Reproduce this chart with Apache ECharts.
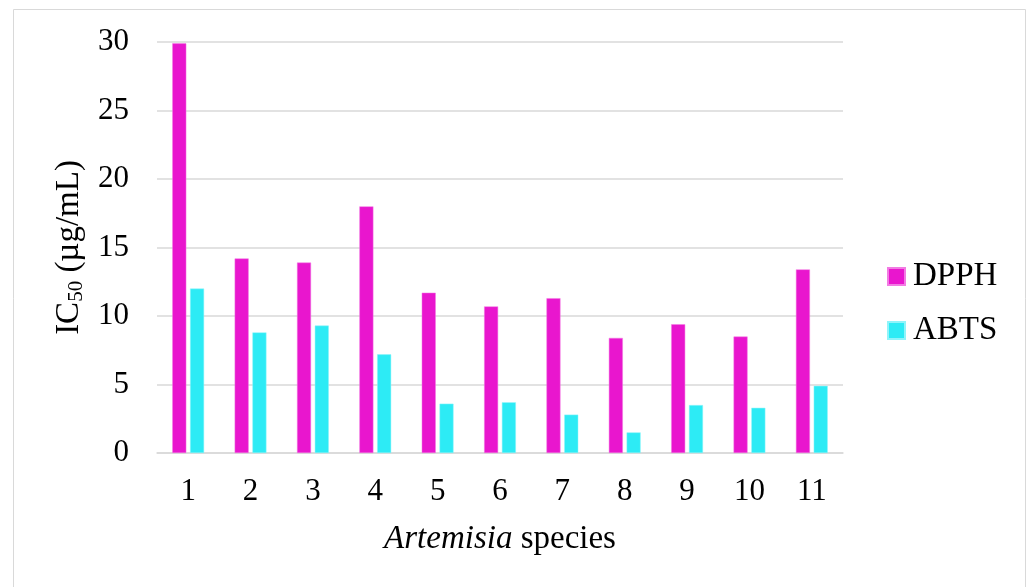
<!DOCTYPE html>
<html>
<head>
<meta charset="utf-8">
<script src="https://cdn.jsdelivr.net/npm/echarts@6/dist/echarts.min.js"></script>
<style>
    html, body { margin: 0; padding: 0; background: #fff; }
    #chart { width: 1030px; height: 587px; }
</style>
</head>
<body>
<div id="chart"></div>
<script>
// data
const species = ['1', '2', '3', '4', '5', '6', '7', '8', '9', '10', '11'];
const dpph = [29.9, 14.2, 13.9, 18.0, 11.7, 10.7, 11.3, 8.4, 9.4, 8.5, 13.4];
const abts = [12.0, 8.8, 9.3, 7.2, 3.6, 3.7, 2.8, 1.5, 3.5, 3.3, 4.9];
const yTicks = [0, 5, 10, 15, 20, 25, 30];

const serif = '"Liberation Serif", "Times New Roman", serif';

let chart = echarts.init(document.getElementById('chart'));

let option = {
    animation: false,
    backgroundColor: '#fff',
    textStyle: { fontFamily: serif, color: '#000' },
    graphic: [{
        type: 'rect',
        shape: { x: 13.5, y: 9.5, width: 1012, height: 600 },
        style: { fill: 'none', stroke: '#d9d9d9', lineWidth: 1 },
        silent: true
    }],
    grid: { left: 157, right: 187, top: 42, bottom: 134 },
    legend: {
        orient: 'vertical',
        left: 882,
        top: 255,
        itemWidth: 17,
        itemHeight: 17,
        itemGap: 21,
        icon: 'rect',
        textStyle: { fontFamily: serif, fontSize: 33, color: '#000', padding: [0, 0, 0, 3] },
        data: ['DPPH', 'ABTS']
    },
    xAxis: {
        type: 'category',
        data: species,
        name: '{i|Artemisia}{n| species}',
        nameLocation: 'middle',
        nameGap: 70,
        nameTextStyle: {
            rich: {
                i: { fontFamily: serif, fontSize: 33, fontStyle: 'italic', color: '#000' },
                n: { fontFamily: serif, fontSize: 33, color: '#000' }
            }
        },
        axisLine: { lineStyle: { color: '#d9d9d9', width: 1.5 } },
        axisTick: { show: false },
        axisLabel: { fontFamily: serif, fontSize: 31, color: '#000', margin: 23 }
    },
    yAxis: {
        type: 'value',
        min: yTicks[0],
        max: yTicks[yTicks.length - 1],
        interval: 5,
        name: '{a|IC}{s|50}{a| (µg/mL)}',
        nameLocation: 'middle',
        nameGap: 70,
        nameTextStyle: {
            rich: {
                a: { fontFamily: serif, fontSize: 33, color: '#000', lineHeight: 36 },
                s: { fontFamily: serif, fontSize: 21, color: '#000', lineHeight: 36, verticalAlign: 'bottom' }
            }
        },
        axisLine: { show: false },
        axisTick: { show: false },
        axisLabel: { fontFamily: serif, fontSize: 31, color: '#000', margin: 28 },
        splitLine: { lineStyle: { color: '#d9d9d9', width: 1.5 } }
    },
    series: [
        {
            name: 'DPPH',
            type: 'bar',
            data: dpph,
            barWidth: 14,
            barGap: '27%',
            itemStyle: { color: '#e916ce', borderColor: '#f27be3', borderWidth: 0.5 }
        },
        {
            name: 'ABTS',
            type: 'bar',
            data: abts,
            barWidth: 14,
            barGap: '27%',
            itemStyle: { color: '#2debf5', borderColor: '#8ff4fa', borderWidth: 0.5 }
        }
    ]
};

chart.setOption(option);
window.onresize = () => {
    chart.resize()
}
</script>
</body>
</html>
